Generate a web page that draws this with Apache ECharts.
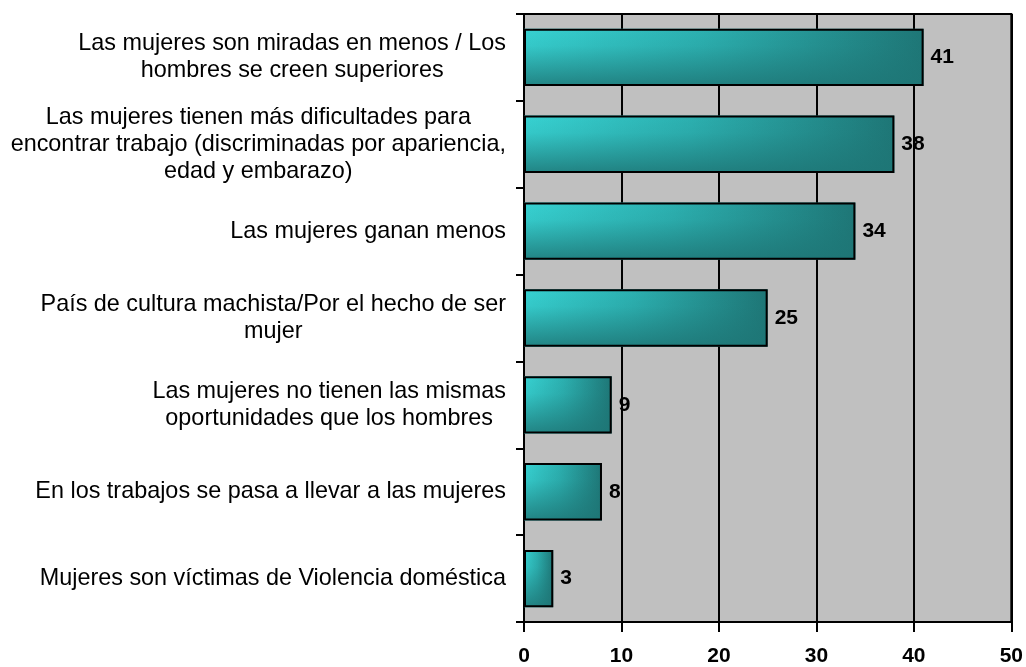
<!DOCTYPE html>
<html>
<head>
<meta charset="utf-8">
<style>
  html, body { margin: 0; padding: 0; background: #ffffff; }
  #chart { width: 1026px; height: 667px; }
</style>
<script src="https://cdn.jsdelivr.net/npm/echarts@6/dist/echarts.min.js"></script>
</head>
<body>
<div id="chart"></div>
<script>
// categorias (de arriba hacia abajo)
var categories = [
  'Las mujeres son miradas en menos / Los\nhombres se creen superiores',
  'Las mujeres tienen más dificultades para\nencontrar trabajo (discriminadas por apariencia,\nedad y embarazo)',
  'Las mujeres ganan menos',
  'País de cultura machista/Por el hecho de ser\nmujer',
  'Las mujeres no tienen las mismas\noportunidades que los hombres',
  'En los trabajos se pasa a llevar a las mujeres',
  'Mujeres son víctimas de Violencia doméstica'
];
var values = [41, 38, 34, 25, 9, 8, 3];
var xTicks = [0, 10, 20, 30, 40, 50];

var chart = echarts.init(document.getElementById('chart'));

chart.setOption({
  animation: false,
  textStyle: { fontFamily: 'Liberation Sans, Arial, sans-serif' },
  grid: {
    left: 524,
    right: 13,
    top: 14,
    bottom: 43,
    show: true,
    backgroundColor: '#c0c0c0',
    borderColor: '#000',
    borderWidth: 2
  },
  xAxis: {
    type: 'value',
    min: xTicks[0],
    max: xTicks[xTicks.length - 1],
    interval: 10,
    axisLine: { show: true, lineStyle: { color: '#000', width: 2 } },
    axisTick: { show: true, length: 10, lineStyle: { color: '#000', width: 2 } },
    splitLine: { show: true, lineStyle: { color: '#000', width: 2 } },
    axisLabel: {
      margin: 24,
      color: '#000',
      fontSize: 21,
      fontWeight: 'bold'
    }
  },
  yAxis: {
    type: 'category',
    inverse: true,
    data: categories,
    axisLine: { show: true, lineStyle: { color: '#000', width: 2 } },
    axisTick: { show: true, length: 8, lineStyle: { color: '#000', width: 2 } },
    axisLabel: {
      margin: 18,
      color: '#000',
      fontSize: 23.4,
      lineHeight: 27,
      // cada linea centrada dentro del bloque
      formatter: function (v) {
        return v.split('\n').map(function (l) { return '{c|' + l + '}'; }).join('\n');
      },
      rich: {
        c: { align: 'center', fontSize: 23.4, lineHeight: 27, color: '#000' }
      }
    }
  },
  series: [{
    // degradado horizontal de base
    type: 'bar',
    data: values,
    barWidth: '66%',
    silent: true,
    itemStyle: {
      color: {
        type: 'linear',
        x: 0, y: 0, x2: 1, y2: 0,
        colorStops: [
          { offset: 0, color: '#37d2d2' },
          { offset: 0.45, color: '#2cb0b0' },
          { offset: 1, color: '#1e7676' }
        ]
      }
    }
  }, {
    // sombra vertical encima + borde y etiqueta
    type: 'bar',
    data: values,
    barWidth: '66%',
    barGap: '-100%',
    itemStyle: {
      borderColor: '#000',
      borderWidth: 2,
      color: {
        type: 'linear',
        x: 0, y: 0, x2: 0, y2: 1,
        colorStops: [
          { offset: 0, color: 'rgba(30,118,118,0)' },
          { offset: 0.3, color: 'rgba(30,118,118,0.1)' },
          { offset: 1, color: 'rgba(30,118,118,0.85)' }
        ]
      }
    },
    label: {
      show: true,
      position: 'right',
      distance: 7,
      color: '#000',
      fontSize: 21,
      fontWeight: 'bold'
    }
  }]
});
</script>
</body>
</html>
